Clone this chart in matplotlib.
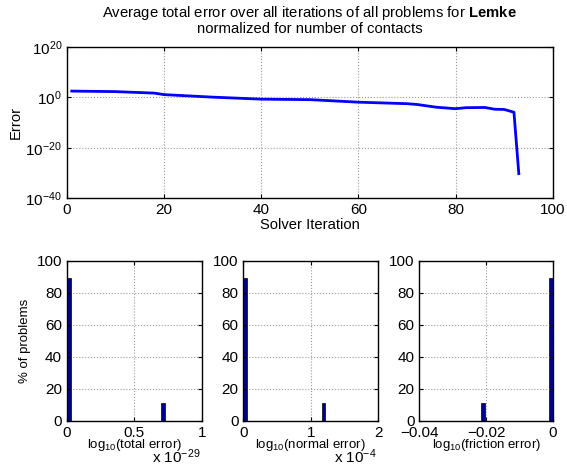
import numpy as np
import matplotlib
matplotlib.use("Agg")
import matplotlib.pyplot as plt

plt.rcParams['font.family'] = ['Liberation Sans', 'DejaVu Sans']
plt.rcParams['mathtext.fontset'] = 'custom'
plt.rcParams['mathtext.rm'] = 'Liberation Sans'
plt.rcParams['mathtext.it'] = 'Liberation Sans'
plt.rcParams['mathtext.bf'] = 'Liberation Sans:bold'

# average error curve (log10 of error)
iters = [1, 10, 18, 20, 30, 40, 50, 60, 70, 72, 76, 80, 82, 86, 88, 90, 92, 93]
log_err = [2.5, 2.3, 1.7, 1.1, 0.1, -0.7, -0.9, -1.9, -2.5, -2.8, -3.9, -4.5,
           -4.1, -4.0, -4.7, -4.8, -5.9, -30.3]
err = 10.0 ** np.array(log_err)

# histograms: % of problems
total_pos = [0.015, 0.71]      # x 10^-29
total_pct = [88.9, 11.1]
normal_pos = [0.03, 1.19]      # x 10^-4
normal_pct = [88.9, 11.1]
fric_pos = [-0.0209, -0.0006]
fric_pct = [11.1, 88.9]

fig = plt.figure(figsize=(5.67, 4.66), dpi=100)

def style(ax):
    ax.tick_params(direction='in', top=True, right=True, labelsize=11, length=3)
    ax.grid(True, linestyle=':', color='0.6', linewidth=0.8)
    for s in ax.spines.values():
        s.set_linewidth(1.0)

ax = fig.add_axes([0.118, 0.575, 0.857, 0.324])
ax.semilogy(iters, err, color='blue', lw=2)
ax.set_xlim(0, 100)
ax.set_ylim(1e-40, 1e20)
ax.set_yticks([1e-40, 1e-20, 1e0, 1e20])
ax.yaxis.set_minor_locator(matplotlib.ticker.NullLocator())
ax.set_xticks([0, 20, 40, 60, 80, 100])
style(ax)
ax.set_xlabel("Solver Iteration", fontsize=10.6, labelpad=1)
ax.set_ylabel("Error", fontsize=10.6, labelpad=2)
ax.set_title("Average total error over all iterations of all problems for $\\bf{Lemke}$\n"
             "normalized for number of contacts", fontsize=10.7, pad=10, linespacing=1.05)

bar_kw = dict(color='#00008f', edgecolor='black', linewidth=0.5)

a1 = fig.add_axes([0.118, 0.0966, 0.238, 0.344])
a1.bar(total_pos, total_pct, width=0.03, **bar_kw)
a1.set_xlim(0, 1)
a1.set_xticks([0, 0.5, 1])
a1.set_xticklabels(["0", "0.5", "1"])
a1.set_ylabel("% of problems", fontsize=9.5)

a2 = fig.add_axes([0.429, 0.0966, 0.238, 0.344])
a2.bar(normal_pos, normal_pct, width=0.055, **bar_kw)
a2.set_xlim(0, 2)
a2.set_xticks([0, 1, 2])

a3 = fig.add_axes([0.7395, 0.0966, 0.236, 0.344])
a3.bar(fric_pos, fric_pct, width=0.0011, **bar_kw)
a3.set_xlim(-0.04, 0)
a3.set_xticks([-0.04, -0.02, 0])
a3.set_xticklabels(["\u22120.04", "\u22120.02", "0"])

labels = ["log$_{10}$(total error)", "log$_{10}$(normal error)", "log$_{10}$(friction error)"]
for a, lab in zip([a1, a2, a3], labels):
    a.set_ylim(0, 100)
    a.set_yticks([0, 20, 40, 60, 80, 100])
    style(a)
    a.set_xlabel(lab, fontsize=9.5, labelpad=-2)

a1.text(0.99, -0.225, "x 10$^{-29}$", transform=a1.transAxes, fontsize=11,
        ha='right', va='center')
a2.text(0.99, -0.225, "x 10$^{-4}$", transform=a2.transAxes, fontsize=11,
        ha='right', va='center')

fig.savefig("out.png", dpi=100)
